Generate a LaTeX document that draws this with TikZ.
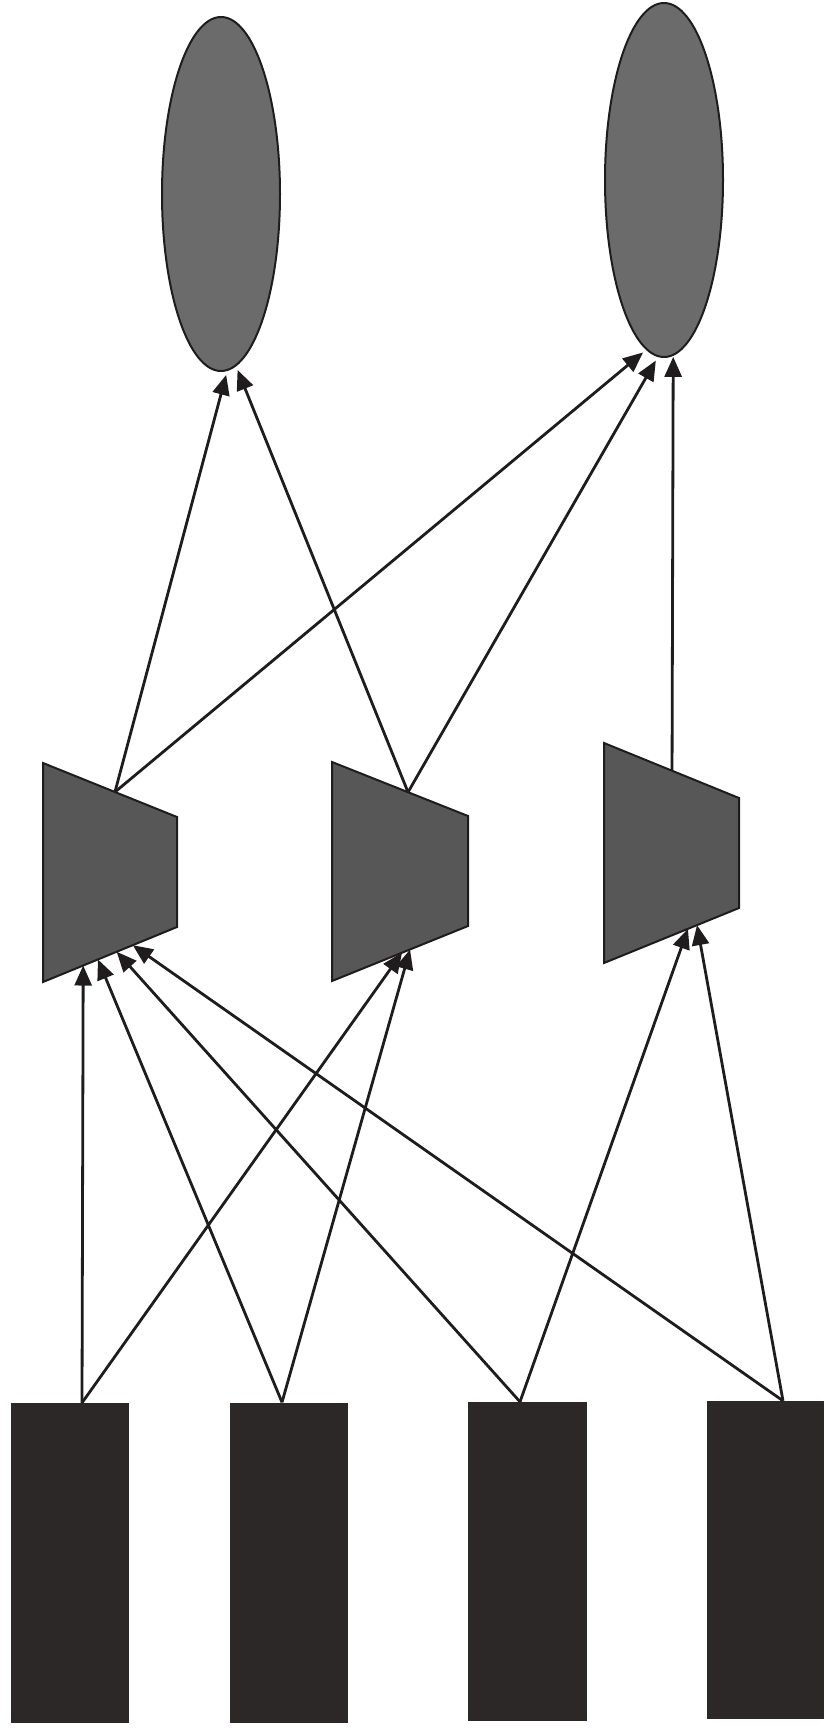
\documentclass[tikz,border=0pt]{standalone}
\usetikzlibrary{shapes.geometric,arrows.meta,calc}
\definecolor{ellgray}{gray}{0.42}
\definecolor{trapgray}{gray}{0.34}
\definecolor{bargray}{RGB}{44,40,40}
\definecolor{inkcol}{RGB}{30,28,28}
\begin{document}
\begin{tikzpicture}[x=1pt,y=-1pt,
  conn/.style={line width=2.8pt, draw=inkcol, -{Triangle[length=20pt,width=17pt]}},
  ellnode/.style={ellipse, draw=inkcol, line width=2pt, fill=ellgray,
    minimum width=118pt, minimum height=354pt, inner sep=0pt},
  trap/.style={draw=inkcol, fill=trapgray, line width=2pt, line join=miter},
  bar/.style={rectangle, fill=bargray, draw=none, inner sep=0pt,
    minimum width=118pt, minimum height=320pt}]
\useasboundingbox (0,0) rectangle (825,1729);

% output ellipses
\node[ellnode] (E1) at (221,194) {};
\node[ellnode] (E2) at (664,180) {};

% trapezoids
\path[trap] (43,763) coordinate (T1tl) -- (177,817) coordinate (T1tr)
  -- (177,927) coordinate (T1br) -- (43,982) coordinate (T1bl) -- cycle;
\path[trap] (332,762) coordinate (T2tl) -- (468,816) coordinate (T2tr)
  -- (468,926) coordinate (T2br) -- (332,981) coordinate (T2bl) -- cycle;
\path[trap] (604,743) coordinate (T3tl) -- (739,798) coordinate (T3tr)
  -- (739,908) coordinate (T3br) -- (604,963) coordinate (T3bl) -- cycle;

% input bars
\node[bar] (R1) at (69.5,1563) {};
\node[bar] (R2) at (289,1562.5) {};
\node[bar, minimum width=119pt, minimum height=319pt] (R3) at (527.5,1561.5) {};
\node[bar, minimum width=117pt, minimum height=318pt] (R4) at (765.5,1560) {};

% connection points
\coordinate (s1) at ([xshift=12.5pt]R1.north);
\coordinate (s2) at ([xshift=-7pt]R2.north);
\coordinate (s3) at ([xshift=-7.5pt]R3.north);
\coordinate (s4) at ([xshift=17.5pt]R4.north);

\coordinate (T1a) at ($(T1bl)!0.30!(T1br)$);
\coordinate (T1b) at ($(T1bl)!0.41!(T1br)$);
\coordinate (T1c) at ($(T1bl)!0.55!(T1br)$);
\coordinate (T1d) at ($(T1bl)!0.67!(T1br)$);
\coordinate (T2a) at ($(T2bl)!0.515!(T2br)$);
\coordinate (T2b) at ($(T2bl)!0.574!(T2br)$);
\coordinate (T3a) at ($(T3bl)!0.622!(T3br)$);
\coordinate (T3b) at ($(T3bl)!0.689!(T3br)$);

\coordinate (T1o) at ($(T1tl)!0.537!(T1tr)$);
\coordinate (T2o) at ($(T2tl)!0.559!(T2tr)$);
\coordinate (T3o) at ($(T3tl)!0.504!(T3tr)$);

% bottom layer connectors
\draw[conn] (s1) -- (T1a);
\draw[conn] (s2) -- (T1b);
\draw[conn] (s3) -- (T1c);
\draw[conn] (s4) -- (T1d);
\draw[conn] (s1) -- (T2a);
\draw[conn] (s2) -- (T2b);
\draw[conn] (s3) -- (T3a);
\draw[conn] (s4) -- (T3b);

% top layer connectors
\draw[conn, shorten >=4pt] (T1o) -- (E1.-88.4);
\draw[conn, shorten >=4pt] (T2o) -- (E1.-85.1);
\draw[conn, shorten >=4pt] (T1o) -- (E2.-96.2);
\draw[conn, shorten >=4pt] (T2o) -- (E2.-92.2);
\draw[conn, shorten >=1pt] (T3o) -- (E2.-87.4);
\end{tikzpicture}
\end{document}
